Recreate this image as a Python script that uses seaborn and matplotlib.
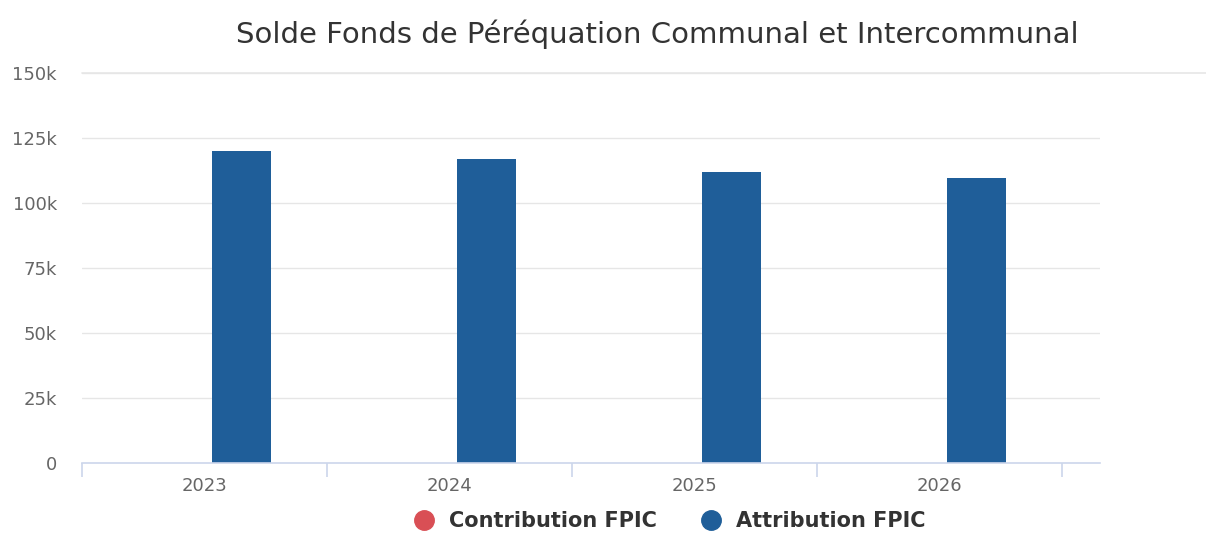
import numpy as np
import pandas as pd
import matplotlib
matplotlib.use("Agg")
import matplotlib.pyplot as plt
import seaborn as sns
from matplotlib.lines import Line2D

years = ["2023", "2024", "2025", "2026"]
contribution = [0, 0, 0, 0]
attribution = [120000, 117000, 112000, 109500]
series = ["Contribution FPIC", "Attribution FPIC"]
colors = ["#d94f55", "#1f5e99"]
yticks = [0, 25000, 50000, 75000, 100000, 125000, 150000]
ylabels = ["0", "25k", "50k", "75k", "100k", "125k", "150k"]

df = pd.DataFrame({
    "annee": years * 2,
    "serie": [series[0]] * 4 + [series[1]] * 4,
    "valeur": contribution + attribution,
})

sns.set_style("white")
plt.rcParams["font.family"] = ["DejaVu Sans"]

fig = plt.figure(figsize=(12.06, 5.33), dpi=100)
ax = fig.add_axes([82 / 1206, 1 - 463 / 533, (1100 - 82) / 1206, (463 - 73) / 533])

sns.barplot(data=df, x="annee", y="valeur", hue="serie", palette=colors,
            width=0.6, gap=0.2, ax=ax, legend=False, saturation=1,
            edgecolor="none")

ax.set_ylim(0, 150000)
ax.set_xlim(-0.5, 3.655)
ax.set_yticks(yticks)
ax.set_yticklabels(ylabels)
ax.set_xlabel("")
ax.set_ylabel("")

# grille horizontale
for v in yticks[1:]:
    ax.axhline(v, color="#e6e6e6", lw=1, zorder=0)
ax.axhline(150000, xmin=0, xmax=(1206 - 82) / (1100 - 82), color="#e6e6e6",
           lw=1.2, zorder=0, clip_on=False)

for s in ["top", "right", "left"]:
    ax.spines[s].set_visible(False)
ax.spines["bottom"].set_color("#ccd6eb")
ax.spines["bottom"].set_linewidth(1.2)

ax.tick_params(axis="y", length=0, pad=18, labelsize=13, labelcolor="#666666")
ax.tick_params(axis="x", which="major", bottom=False, length=0, pad=10,
               labelsize=13, labelcolor="#666666")
ax.set_xticks(np.arange(-0.5, 4, 1), minor=True)
ax.tick_params(axis="x", which="minor", bottom=True, direction="out",
               length=10, width=1.2, color="#ccd6eb")

fig.text(657 / 1206, 1 - 34 / 533, "Solde Fonds de Péréquation Communal et Intercommunal",
         ha="center", va="center", fontsize=21, color="#333333")

handles = [Line2D([0], [0], marker="o", linestyle="", markersize=14,
                  markerfacecolor=c, markeredgecolor=c) for c in colors]
leg = fig.legend(handles, series, loc="center", bbox_to_anchor=(0.551, 1 - 521 / 533),
                 ncol=2, frameon=False, handletextpad=0.2, columnspacing=1.6,
                 prop={"size": 15, "weight": "bold"})
for t in leg.get_texts():
    t.set_color("#333333")

fig.savefig("out.png", dpi=100)
